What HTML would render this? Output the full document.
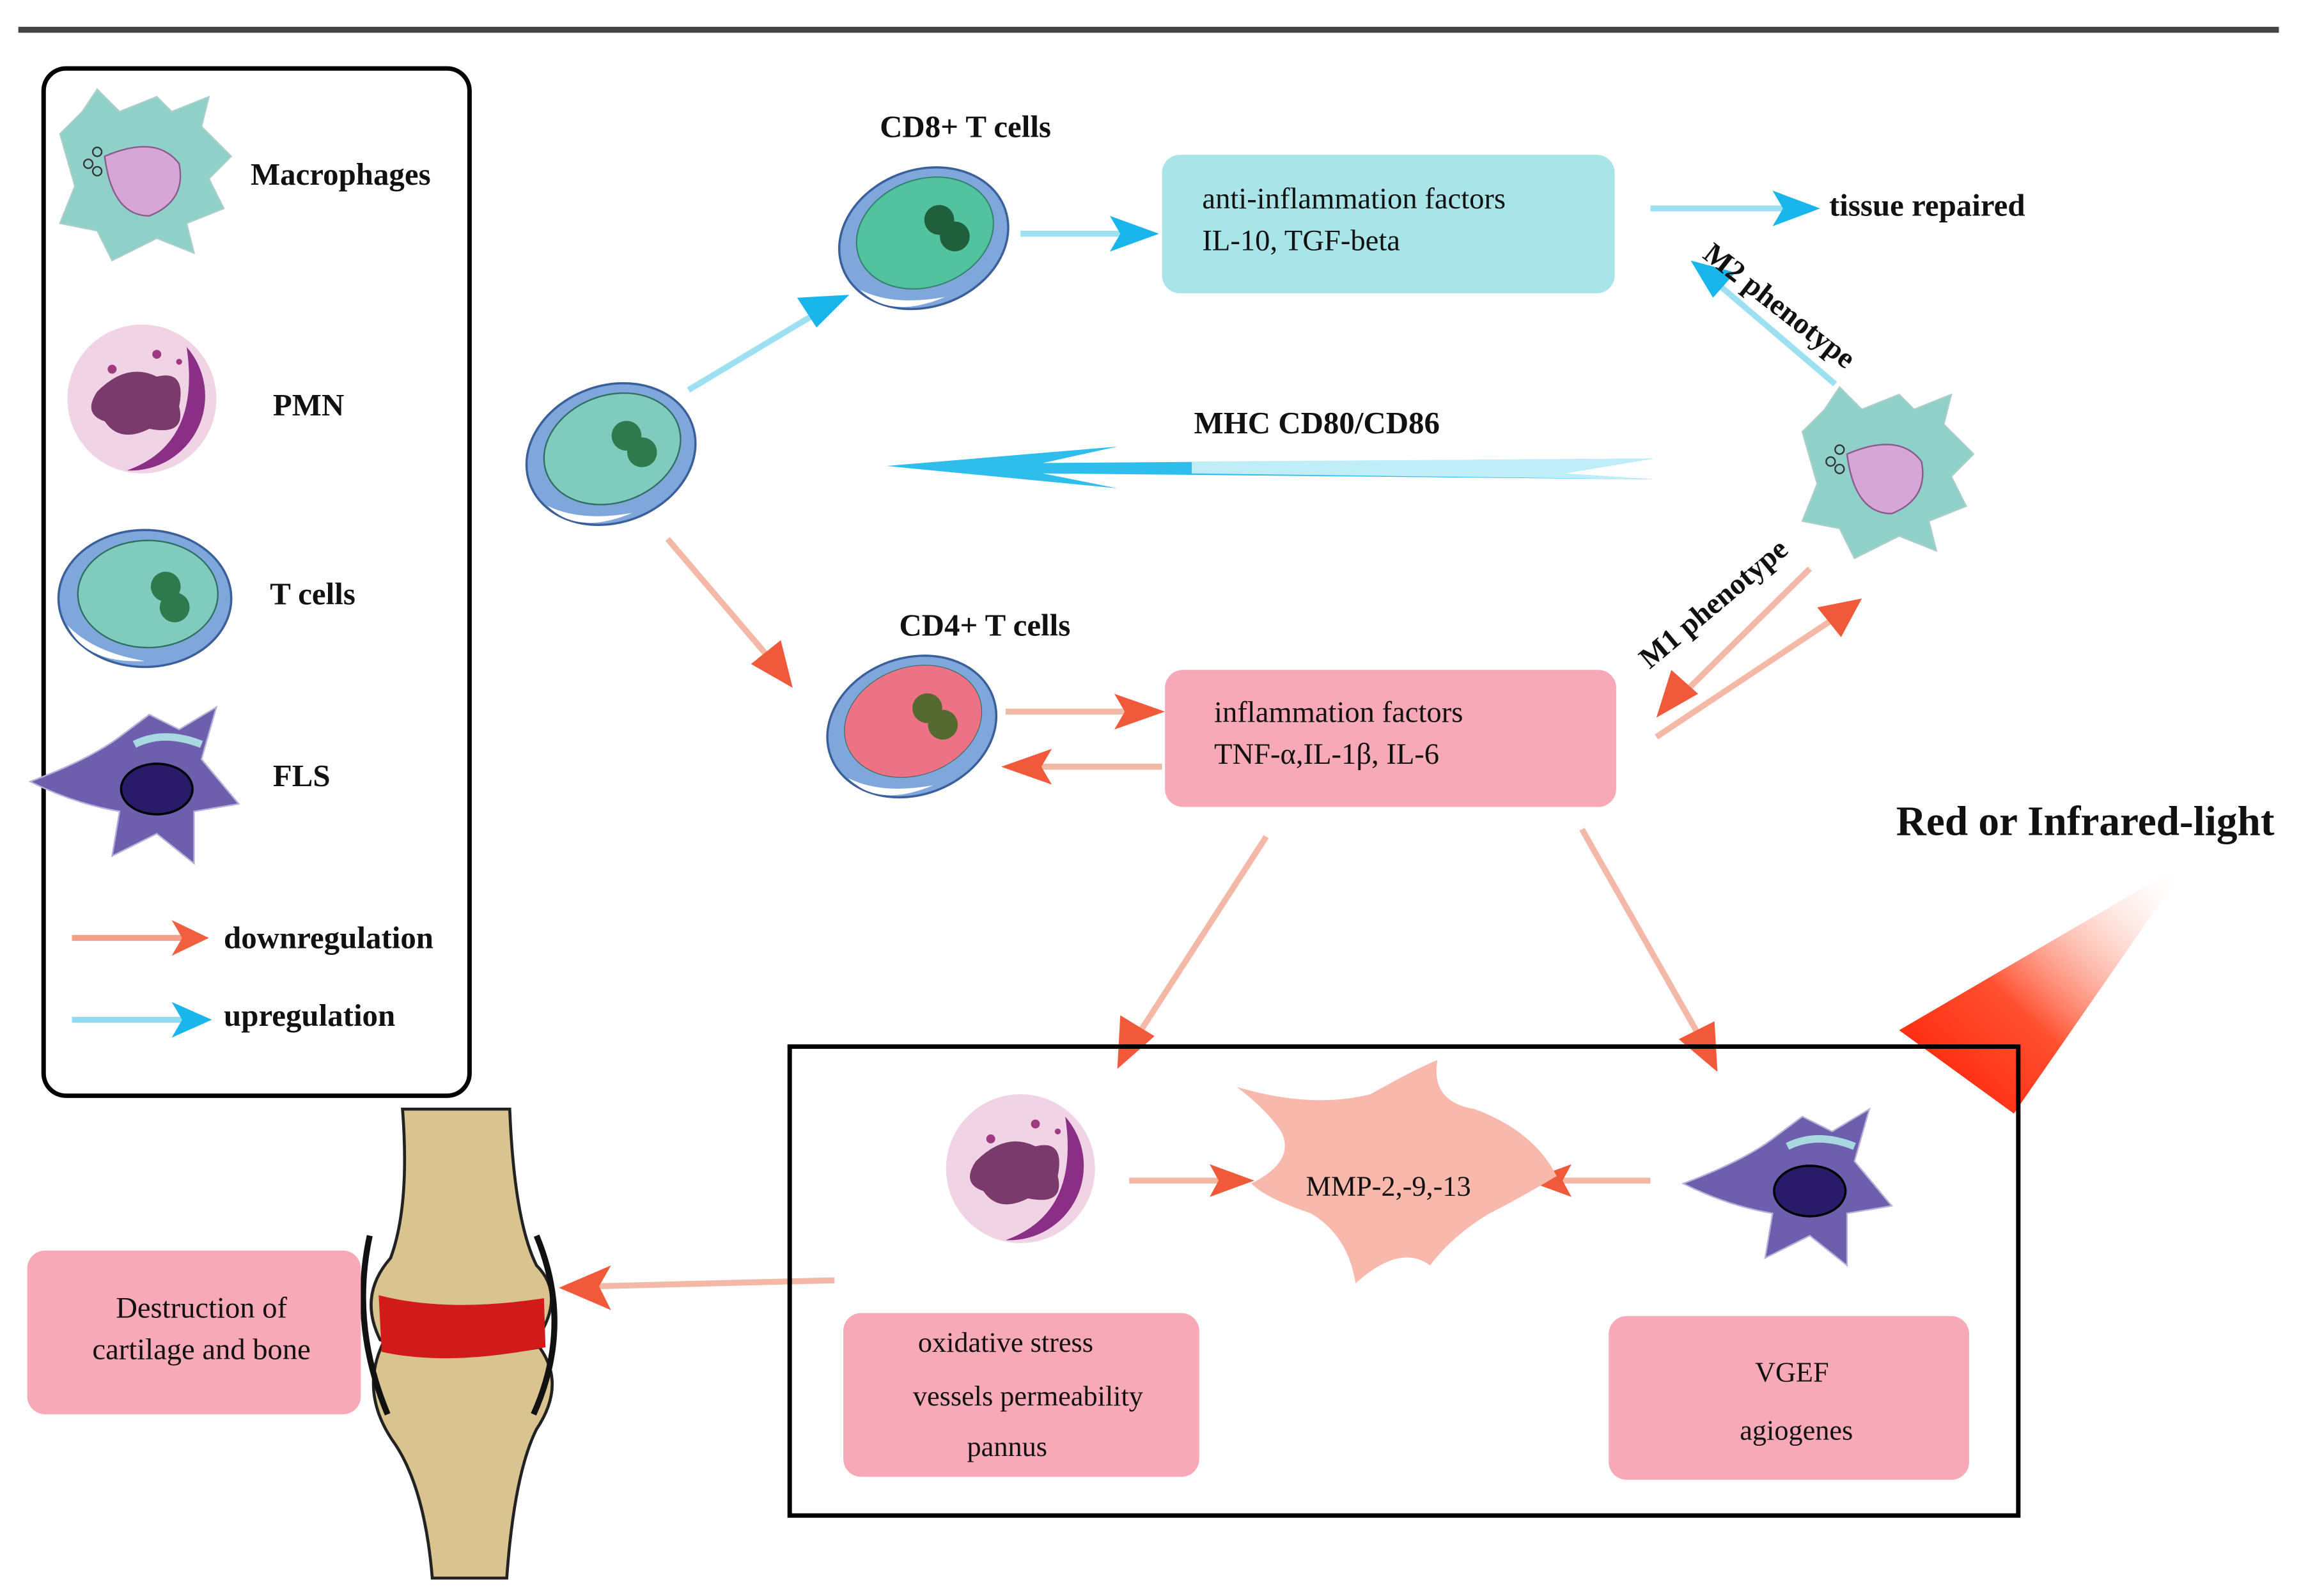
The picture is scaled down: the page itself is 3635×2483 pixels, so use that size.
<!DOCTYPE html>
<html><head><meta charset="utf-8"><style>
html,body{margin:0;padding:0;background:#fff;}
svg{display:block;}
text{font-family:"Liberation Serif",serif;font-weight:bold;fill:#111;}
</style></head><body>
<svg width="3635" height="2483" viewBox="0 0 1560 1066" xmlns="http://www.w3.org/2000/svg">
<defs>
<linearGradient id="lf" x1="0.1" y1="0.85" x2="0.95" y2="0.05"><stop offset="0" stop-color="#ff2a10"/><stop offset="0.35" stop-color="#ff5030"/><stop offset="1" stop-color="#fff0e8" stop-opacity="0"/></linearGradient>
<g id="tcell">
 <ellipse cx="0" cy="0" rx="58" ry="46" fill="#7fa7dc" stroke="#3a5f9a" stroke-width="1.5"/>
 <ellipse cx="2" cy="-3" rx="47" ry="36" fill="#7fcbbd" stroke="#2f6f60" stroke-width="1"/>
 <path d="M-52 18 Q-40 44 0 42 Q-35 36 -52 18Z" fill="#fff"/>
 <circle cx="14" cy="-8" r="10" fill="#2e7a4c"/><circle cx="20" cy="6" r="10" fill="#2e7a4c"/>
</g>
<g id="pmn">
 <circle r="50" fill="#f0d4e6"/>
 <path d="M30 -35 A50 50 0 0 1 -10 48 Q40 30 30 -35Z" fill="#8b2f86"/>
 <path d="M-30 -5 Q-10 -25 10 -15 Q30 -20 25 5 Q30 25 5 20 Q-15 30 -25 15 Q-40 10 -30 -5Z" fill="#7a3a6c"/>
 <circle cx="-20" cy="-20" r="3" fill="#a03a80"/><circle cx="10" cy="-30" r="3" fill="#a03a80"/><circle cx="25" cy="-25" r="2" fill="#a03a80"/>
</g>
<g id="mac">
 <path d="M-55 -30 L-40 -45 L-30 -60 L-15 -45 L10 -55 L20 -45 L45 -55 L40 -35 L60 -15 L45 0 L55 20 L30 30 L35 50 L10 40 L-20 55 L-30 35 L-55 30 L-45 5Z" fill="#8fd0c8" stroke="#aacfc9"/>
 <path d="M-25 -15 Q10 -30 25 -10 Q30 15 5 25 Q-20 25 -25 -15Z" fill="#d6a6d6" stroke="#8a5a8a"/>
 <circle cx="-30" cy="-18" r="3" fill="none" stroke="#333"/><circle cx="-36" cy="-10" r="3" fill="none" stroke="#333"/><circle cx="-30" cy="-5" r="3" fill="none" stroke="#333"/>
</g>
<g id="fls">
 <path d="M-80 -5 Q-40 -20 -20 -35 L0 -50 L20 -40 L45 -55 L35 -20 L60 10 L30 15 L30 50 L5 30 L-25 45 L-20 15 Q-50 10 -80 -5Z" fill="#6e5fae" stroke="#b8b0d8"/>
 <ellipse cx="5" cy="0" rx="24" ry="17" fill="#2a1a6a" stroke="#000" stroke-width="1.5"/>
 <path d="M-10 -30 Q10 -40 35 -30" stroke="#a8d8e0" stroke-width="5" fill="none"/>
</g>
</defs>
<rect x="12" y="18" width="1518" height="4" fill="#444"/>
<rect x="29" y="46" width="286" height="690" rx="15" fill="none" stroke="#000" stroke-width="3"/>
<use href="#mac" x="95" y="120"/>
<text x="168" y="124" font-size="21">Macrophages</text>
<use href="#pmn" x="95" y="268"/>
<text x="183" y="279" font-size="21">PMN</text>
<use href="#tcell" x="97" y="402"/>
<text x="181" y="406" font-size="21">T cells</text>
<use href="#fls" x="100" y="530"/>
<text x="183" y="528" font-size="21">FLS</text>
<path d="M48 630 L130 630" stroke="#f3a08a" stroke-width="4"/><path d="M115 618 L140 630 L115 642 L122 630Z" fill="#f06040"/>
<text x="150" y="637" font-size="21">downregulation</text>
<path d="M48 685 L130 685" stroke="#8fdcf0" stroke-width="4"/><path d="M115 673 L142 685 L115 697 L122 685Z" fill="#18b6ea"/>
<text x="150" y="689" font-size="21">upregulation</text>
<use href="#tcell" transform="translate(410,305) rotate(-20)"/>
<text x="648" y="92" font-size="21" text-anchor="middle">CD8+ T cells</text>
<g transform="translate(620,160) rotate(-20)"><use href="#tcell"/><ellipse cx="2" cy="-3" rx="47" ry="36" fill="#3fbf92" opacity=".7"/><circle cx="14" cy="-8" r="10" fill="#1f5f3c"/><circle cx="20" cy="6" r="10" fill="#1f5f3c"/></g>
<rect x="780" y="104" width="304" height="93" rx="12" fill="#a9e4e8"/>
<text x="807" y="140" font-size="20" style="font-weight:normal">anti-inflammation factors</text>
<text x="807" y="168" font-size="20" style="font-weight:normal">IL-10, TGF-beta</text>
<g stroke="#9de0f2" stroke-width="4" fill="#18b6ea">
<line x1="685" y1="157" x2="760" y2="157"/><path d="M745 145 L778 157 L745 169 L752 157Z" stroke="none"/>
<line x1="462" y1="262" x2="552" y2="208"/><path d="M535 200 L570 198 L548 220 Z" stroke="none"/>
<line x1="1108" y1="140" x2="1200" y2="140"/><path d="M1190 128 L1222 140 L1190 152 L1197 140Z" stroke="none"/>
<line x1="1232" y1="258" x2="1150" y2="188"/><path d="M1135 175 L1165 183 L1150 200Z" stroke="none"/>
</g>
<text x="1228" y="145" font-size="21">tissue repaired</text>
<path d="M595 313 L750 300 L700 311 L1110 308 L1050 318 L1110 322 L700 318 L750 328Z" fill="#18b6ea" opacity=".9"/>
<path d="M800 310 L1110 308 L1050 318 L1110 322 L800 318Z" fill="#bfeef8"/>
<text x="884" y="291" font-size="21" text-anchor="middle">MHC CD80/CD86</text>
<text x="1195" y="212" font-size="20" text-anchor="middle" transform="rotate(38 1195 205)">M2 phenotype</text>
<use href="#mac" x="1265" y="320"/>
<text x="1150" y="412" font-size="20" text-anchor="middle" transform="rotate(-40 1150 405)">M1 phenotype</text>
<g stroke="#f4b8a6" stroke-width="4" fill="#f05a3a">
<line x1="1215" y1="382" x2="1128" y2="468"/><path d="M1112 482 L1122 450 L1140 466Z" stroke="none"/>
<line x1="1112" y1="495" x2="1235" y2="413"/><path d="M1250 402 L1220 408 L1236 428Z" stroke="none"/>
<line x1="448" y1="362" x2="518" y2="444"/><path d="M532 462 L504 446 L524 430Z" stroke="none"/>
<line x1="675" y1="478" x2="762" y2="478"/><path d="M748 466 L782 478 L748 490 L755 478Z" stroke="none"/>
<line x1="780" y1="515" x2="692" y2="515"/><path d="M706 503 L672 515 L706 527 L699 515Z" stroke="none"/>
<line x1="850" y1="562" x2="762" y2="698"/><path d="M750 718 L752 682 L775 696Z" stroke="none"/>
<line x1="1062" y1="557" x2="1142" y2="698"/><path d="M1153 720 L1127 698 L1151 686Z" stroke="none"/>
<line x1="758" y1="793" x2="822" y2="793"/><path d="M812 782 L842 793 L812 804 L818 793Z" stroke="none"/>
<line x1="1108" y1="793" x2="1045" y2="793"/><path d="M1055 782 L1025 793 L1055 804 L1049 793Z" stroke="none"/>
<line x1="560" y1="860" x2="400" y2="864"/><path d="M410 850 L375 865 L410 880 L402 864Z" stroke="none"/>
</g>
<text x="661" y="427" font-size="21" text-anchor="middle">CD4+ T cells</text>
<g transform="translate(612,488) rotate(-20)"><use href="#tcell"/><ellipse cx="2" cy="-3" rx="47" ry="36" fill="#ee7285"/><circle cx="14" cy="-8" r="10" fill="#556a30"/><circle cx="20" cy="6" r="10" fill="#556a30"/></g>
<rect x="782" y="450" width="303" height="92" rx="12" fill="#f8a9b7"/>
<text x="815" y="485" font-size="20" style="font-weight:normal">inflammation factors</text>
<text x="815" y="513" font-size="20" style="font-weight:normal">TNF-α,IL-1β, IL-6</text>
<text x="1400" y="561" font-size="28" text-anchor="middle">Red or Infrared-light</text>
<path d="M1470 578 L1275 692 L1352 748Z" fill="url(#lf)"/>
<rect x="530" y="703" width="825" height="315" fill="none" stroke="#000" stroke-width="3"/>
<use href="#pmn" x="685" y="785"/>
<path d="M830 730 Q880 745 920 735 Q950 718 965 712 Q960 740 990 745 Q1030 760 1045 790 Q1020 805 1000 815 Q975 830 960 850 Q940 835 910 862 Q905 830 880 815 Q850 805 840 795 Q870 780 860 760 Q850 745 830 730Z" fill="#f9b8ac"/>
<text x="932" y="803" font-size="19" text-anchor="middle" style="font-weight:normal">MMP-2,-9,-13</text>
<use href="#fls" x="1210" y="800"/>
<rect x="566" y="882" width="239" height="110" rx="12" fill="#f8a9b7"/>
<text x="675" y="908" font-size="19" text-anchor="middle" style="font-weight:normal">oxidative stress</text>
<text x="690" y="944" font-size="19" text-anchor="middle" style="font-weight:normal">vessels permeability</text>
<text x="676" y="978" font-size="19" text-anchor="middle" style="font-weight:normal">pannus</text>
<rect x="1080" y="884" width="242" height="110" rx="12" fill="#f8a9b7"/>
<text x="1203" y="928" font-size="19" text-anchor="middle" style="font-weight:normal">VGEF</text>
<text x="1206" y="967" font-size="19" text-anchor="middle" style="font-weight:normal">agiogenes</text>
<path d="M270 745 L342 745 Q345 820 360 850 Q380 870 360 900 Q300 915 255 900 Q240 870 262 845 Q275 810 270 745Z" fill="#d9c38e" stroke="#222" stroke-width="2"/>
<path d="M258 900 Q300 915 362 905 Q380 930 360 960 Q345 990 340 1060 L290 1060 Q285 1000 265 970 Q240 935 258 900Z" fill="#d9c38e" stroke="#222" stroke-width="2"/>
<path d="M254 870 Q300 882 365 872 L366 905 Q300 918 256 908Z" fill="#d11a1a"/>
<path d="M248 830 Q235 890 260 950" stroke="#111" stroke-width="4" fill="none"/>
<path d="M360 830 Q385 890 358 950" stroke="#111" stroke-width="4" fill="none"/>
<rect x="18" y="840" width="224" height="110" rx="12" fill="#f8a9b7"/>
<text x="135" y="885" font-size="20" text-anchor="middle" style="font-weight:normal">Destruction of</text>
<text x="135" y="913" font-size="20" text-anchor="middle" style="font-weight:normal">cartilage and bone</text>
</svg>
</body></html>
